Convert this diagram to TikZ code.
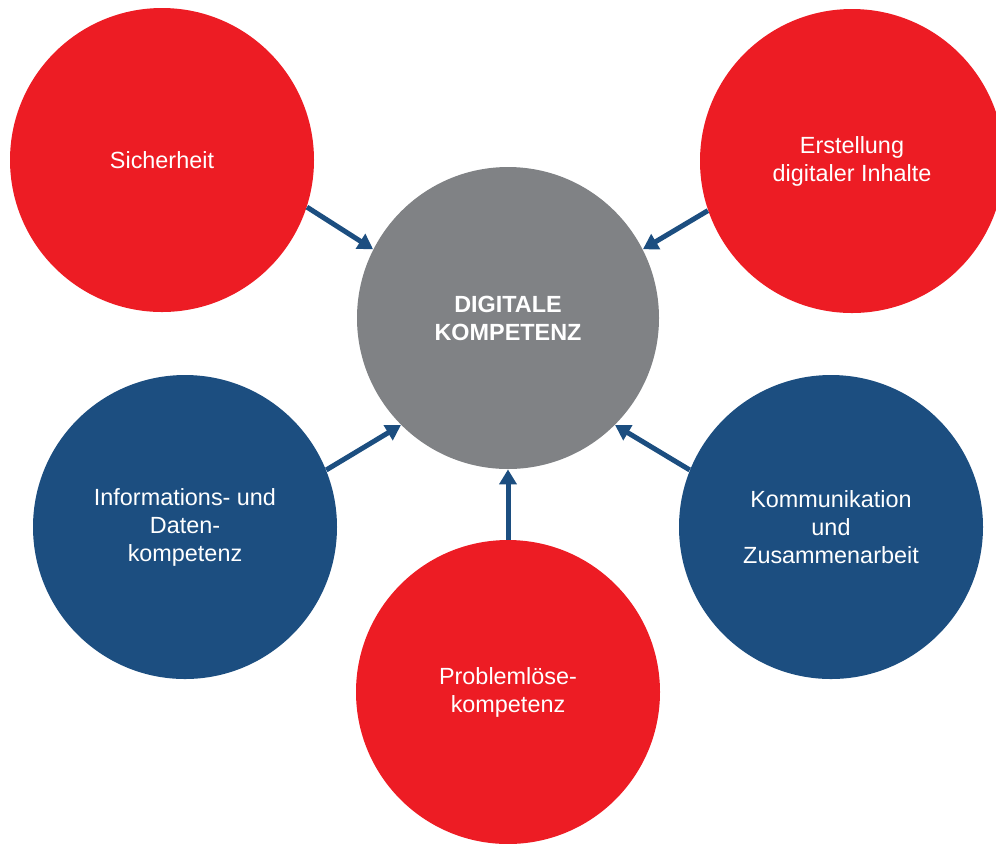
\documentclass[tikz,border=0pt]{standalone}
\usepackage{fontspec}
\setmainfont{Liberation Sans}
\usepackage{xcolor}
\usepackage{tikz}
\usetikzlibrary{arrows.meta}

\definecolor{kompred}{HTML}{ED1C24}
\definecolor{kompblue}{HTML}{1C4E80}
\definecolor{kompgray}{HTML}{808285}

\begin{document}
\begin{tikzpicture}[x=0.5pt,y=-0.5pt]
\tikzstyle{every node}+=[inner sep=0pt]
\tikzstyle{bubble}=[circle, minimum size=152pt, align=center, text=white, font=\fontsize{11.7}{14}\selectfont]
\tikzstyle{pfeil}=[kompblue, line width=2.5pt, -{Triangle[length=7.5pt,width=8.5pt]}]
\useasboundingbox (0,0) rectangle (996,843);
\clip (0,0) rectangle (996,843);
% centre
\node [bubble, minimum size=151pt, fill=kompgray, font=\fontsize{11.7}{14}\selectfont\bfseries] (dig) at (508,318) {DIGITALE\\KOMPETENZ};
% outer circles
\node [bubble, fill=kompred] (sich) at (162,160) {Sicherheit};
\node [bubble, fill=kompred] (erst) at (852,161) {Erstellung\\digitaler Inhalte};
\node [bubble, fill=kompblue] (info) at (185,527) {Informations- und\\Daten-\\kompetenz};
\node [bubble, fill=kompblue] (komm) at (831,527) {Kommunikation\\und\\Zusammenarbeit};
\node [bubble, fill=kompred] (prob) at (508,692) {Problemlöse-\\kompetenz};
% arrows into the centre
\draw [pfeil] (sich.-18) -- (dig.153);
\draw [pfeil] (erst.199) -- (dig.27);
\draw [pfeil] (info.22) -- (dig.225);
\draw [pfeil] (komm.158) -- (dig.-45);
\draw [pfeil] (prob.north) -- (dig.south);
\end{tikzpicture}
\end{document}
